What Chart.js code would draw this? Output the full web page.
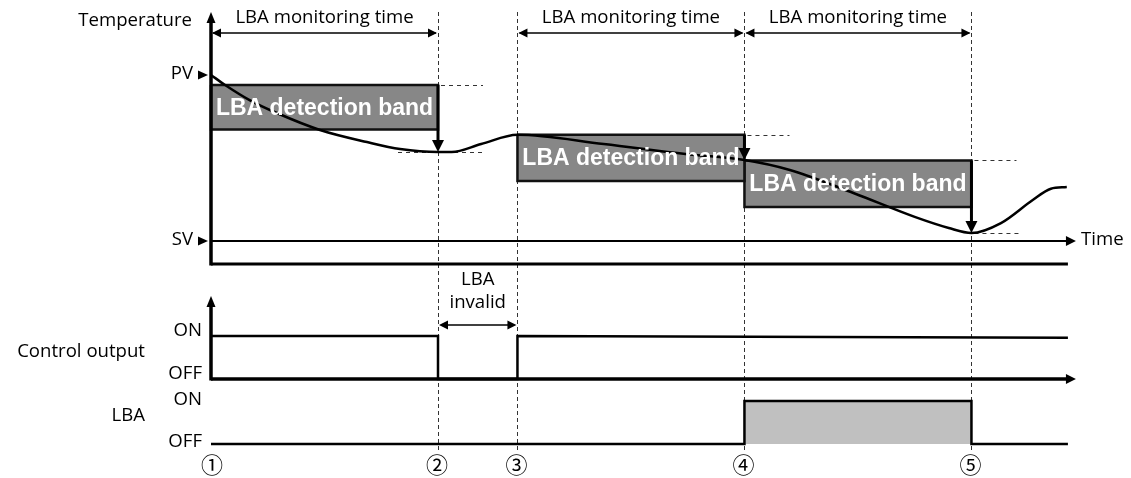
<!DOCTYPE html>
<html>
<head>
<meta charset="utf-8">
<script src="https://cdn.jsdelivr.net/npm/chart.js@4"></script>
<style>
  html, body { margin: 0; padding: 0; background: #fff; }
  #wrap { position: relative; width: 1131px; height: 478px; }
</style>
</head>
<body>
<div id="wrap"><canvas id="lbaChart"></canvas></div>
<script>
// time marks (one LBA monitoring time = 1)
const markTimes = [0, 1, 1.35, 2.35, 3.35];
const markLabels = ['①', '②', '③', '④', '⑤'];
const timeEnd = 3.775;

// temperature, SV = 0 and PV = 100
const PV = 100, SV = 0;
const tempTimes  = [0, 0.062, 0.17, 0.29, 0.48, 0.687, 0.833, 1.0, 1.06, 1.19, 1.35, 1.73, 2.09, 2.35, 2.55, 2.83, 3.1, 3.25, 3.35, 3.48, 3.62, 3.7, 3.77];
const tempValues = [100, 94, 84.9, 77.1, 66.9, 59.6, 55.4, 53.6, 53.6, 58.4, 64, 58.4, 52.4, 48.8, 42.8, 28.9, 14.5, 7.8, 4.8, 10.8, 24.7, 31.5, 32.5];

// LBA detection bands
const bandStart   = [0, 1.35, 2.35];
const bandEnd     = [1, 2.35, 3.35];
const bandTop     = [94, 64, 48.5];
const bandBottom  = [67.2, 36.1, 20.5];
const bandEndTemp = [53.6, 48.8, 4.8];

// control output and LBA output, 1 = ON, 0 = OFF
const ctrlTimes  = [0, 1, 1, 1.35, 1.35, 3.775];
const ctrlValues = [1, 1, 0, 0, 1, 0.96];
const lbaTimes   = [0, 2.35, 2.35, 3.35, 3.35, 3.775];
const lbaValues  = [0, 0, 1, 1, 0, 0];

// layout (pixels)
const W = 1131, H = 478;
const X_ORIGIN = 211, X_UNIT = 227;
const Y_PV = 75, Y_SV = 241;
const Y_CTRL_ON = 336, Y_CTRL_OFF = 379;
const Y_LBA_ON = 401, Y_LBA_OFF = 444;
const FONT = '"Open Sans", "Noto Sans", sans-serif';
const CJK = '"Noto Sans CJK KR", sans-serif';
let labelSize = 17.5;

// value range of a scale so that v1 sits at pixel p1 and v2 at p2
function range(v1, p1, v2, p2, size) {
    const k = (v2 - v1) / (p2 - p1);
    return [v1 - p1 * k, v1 + (size - p1) * k];
}
const xr = range(0, X_ORIGIN, 1, X_ORIGIN + X_UNIT, W);
const tr = range(PV, Y_PV, SV, Y_SV, H);
const cr = range(1, Y_CTRL_ON, 0, Y_CTRL_OFF, H);
const lr = range(1, Y_LBA_ON, 0, Y_LBA_OFF, H);

const pts = (xs, ys) => xs.map((x, i) => ({ x: x, y: ys[i] }));

const bandSets = bandStart.map((s, i) => ({
    data: [
        { x: s, y: bandTop[i] }, { x: bandEnd[i], y: bandTop[i] },
        { x: bandEnd[i], y: bandBottom[i] }, { x: s, y: bandBottom[i] },
        { x: s, y: bandTop[i] }
    ],
    yAxisID: 'yT',
    borderColor: '#111',
    borderWidth: 2.5,
    backgroundColor: '#878787',
    fill: 'shape',
    pointRadius: 0,
    tension: 0,
    order: 3
}));

function arrowHead(ctx, x, y, dir, len, half) {
    ctx.beginPath();
    if (dir === 'right') { ctx.moveTo(x, y); ctx.lineTo(x - len, y - half); ctx.lineTo(x - len, y + half); }
    if (dir === 'left')  { ctx.moveTo(x, y); ctx.lineTo(x + len, y - half); ctx.lineTo(x + len, y + half); }
    if (dir === 'up')    { ctx.moveTo(x, y); ctx.lineTo(x - half, y + len); ctx.lineTo(x + half, y + len); }
    if (dir === 'down')  { ctx.moveTo(x, y); ctx.lineTo(x - half, y - len); ctx.lineTo(x + half, y - len); }
    ctx.closePath();
    ctx.fill();
}

function line(ctx, x1, y1, x2, y2, w) {
    ctx.lineWidth = w;
    ctx.beginPath();
    ctx.moveTo(x1, y1);
    ctx.lineTo(x2, y2);
    ctx.stroke();
}

function text(ctx, str, x, y, align, size, family) {
    ctx.font = size + 'px ' + (family || FONT);
    ctx.textAlign = align;
    ctx.textBaseline = 'middle';
    ctx.fillText(str, x, y);
}

const diagram = {
    id: 'diagram',
    beforeDatasetsDraw(chart) {
        const { ctx, scales: { x, yT } } = chart;
        ctx.save();
        ctx.strokeStyle = '#333';
        ctx.setLineDash([4, 3]);
        markTimes.slice(1).forEach(t => {
            const px = Math.round(x.getPixelForValue(t)) + 0.5;
            line(ctx, px, 12, px, 452, 1);
        });
        // reference levels at band ends
        ctx.setLineDash([4, 4]);
        bandEnd.forEach((t, i) => {
            const px = x.getPixelForValue(t);
            const yTop = Math.round(yT.getPixelForValue(bandTop[i])) + 0.5;
            const yEnd = Math.round(yT.getPixelForValue(bandEndTemp[i])) + 0.5;
            line(ctx, px + 3, yTop, px + 45, yTop, 1);
            line(ctx, i === 0 ? px - 40 : px + 3, yEnd, px + 47, yEnd, 1);
        });
        ctx.restore();
    },
    afterDatasetsDraw(chart) {
        const { ctx, scales: { x, yT, yC, yL } } = chart;
        const x0 = x.getPixelForValue(0);
        const xe = x.getPixelForValue(timeEnd);
        ctx.save();
        ctx.strokeStyle = '#000';
        ctx.fillStyle = '#000';
        ctx.setLineDash([]);

        // label size so that "Temperature" is as wide as in the source
        ctx.font = '100px ' + FONT;
        labelSize = +(100 * 114 / ctx.measureText('Temperature').width).toFixed(1);
        const fs = labelSize;

        // band labels and drop arrows
        bandStart.forEach((s, i) => {
            const l = x.getPixelForValue(s), r = x.getPixelForValue(bandEnd[i]);
            const yc = (yT.getPixelForValue(bandTop[i]) + yT.getPixelForValue(bandBottom[i])) / 2;
            ctx.fillStyle = '#fff';
            ctx.font = 'bold 100px "Liberation Sans", Arial, sans-serif';
            const k = (r - l - 10) / ctx.measureText('LBA detection band').width;
            ctx.font = 'bold ' + (100 * k).toFixed(1) + 'px "Liberation Sans", Arial, sans-serif';
            ctx.textAlign = 'center';
            ctx.textBaseline = 'middle';
            ctx.fillText('LBA detection band', (l + r) / 2, yc + 1);
            ctx.fillStyle = '#000';
            const yTop = yT.getPixelForValue(bandTop[i]);
            const yEnd = yT.getPixelForValue(bandEndTemp[i]);
            line(ctx, r, yTop, r, yEnd - 10, 3);
            arrowHead(ctx, r, yEnd, 'down', 12, 6);

            // monitoring time arrows
            const ya = 33;
            line(ctx, l + 2, ya, r - 2, ya, 1.5);
            arrowHead(ctx, l + 1, ya, 'left', 9, 4.5);
            arrowHead(ctx, r - 1, ya, 'right', 9, 4.5);
            text(ctx, 'LBA monitoring time', (l + r) / 2, 18, 'center', fs);
        });

        // temperature axes
        const yBase = 264, ySV = yT.getPixelForValue(SV), yPV = yT.getPixelForValue(PV);
        line(ctx, x0, yBase + 1.5, x0, 22, 3.5);
        arrowHead(ctx, x0, 12, 'up', 11, 4.5);
        line(ctx, x0, yBase, xe, yBase, 3);
        line(ctx, x0, ySV, xe, ySV, 2);
        arrowHead(ctx, xe + 8, ySV, 'right', 10, 5);
        text(ctx, 'Temperature', 192, 21, 'right', fs);
        text(ctx, 'PV', 193, yPV - 1, 'right', fs);
        text(ctx, 'SV', 193, ySV - 1, 'right', fs);
        arrowHead(ctx, 208, yPV, 'right', 10, 4.5);
        arrowHead(ctx, 208, ySV, 'right', 10, 4.5);
        text(ctx, 'Time', 1081, ySV - 1, 'left', fs);

        // control output axes
        const yOff = yC.getPixelForValue(0), yOn = yC.getPixelForValue(1);
        line(ctx, x0, yOff + 1.5, x0, 306, 3.5);
        arrowHead(ctx, x0, 296, 'up', 11, 4.5);
        line(ctx, x0, yOff, xe, yOff, 3.5);
        arrowHead(ctx, xe + 8, yOff, 'right', 10, 5);
        text(ctx, 'ON', 202, yOn - 5, 'right', fs);
        text(ctx, 'OFF', 202, yOff - 5, 'right', fs);
        text(ctx, 'Control output', 145, 352, 'right', fs);

        // LBA invalid interval
        const a = x.getPixelForValue(markTimes[1]), b = x.getPixelForValue(markTimes[2]);
        line(ctx, a + 3, 325, b - 3, 325, 1.5);
        arrowHead(ctx, a + 1, 325, 'left', 9, 4.5);
        arrowHead(ctx, b - 1, 325, 'right', 9, 4.5);
        text(ctx, 'LBA', (a + b) / 2, 280, 'center', fs);
        text(ctx, 'invalid', (a + b) / 2, 303, 'center', fs);

        // LBA output labels
        text(ctx, 'ON', 202, yL.getPixelForValue(1) - 1, 'right', fs);
        text(ctx, 'OFF', 202, yL.getPixelForValue(0) - 2, 'right', fs);
        text(ctx, 'LBA', 145, 416, 'right', fs);

        // time marks
        markTimes.forEach((t, i) => text(ctx, markLabels[i], x.getPixelForValue(t) - 1 + (i === 0 ? 2 : 0), 465, 'center', 22, CJK));
        ctx.restore();
    }
};

new Chart(document.getElementById('lbaChart'), {
    type: 'line',
    data: {
        datasets: [
            {
                data: pts(tempTimes, tempValues),
                yAxisID: 'yT',
                borderColor: '#000',
                borderWidth: 2.5,
                pointRadius: 0,
                cubicInterpolationMode: 'monotone',
                fill: false,
                order: 1
            },
            ...bandSets,
            {
                data: pts(ctrlTimes, ctrlValues),
                yAxisID: 'yC',
                borderColor: '#000',
                borderWidth: 2.5,
                pointRadius: 0,
                fill: false,
                order: 2
            },
            {
                data: pts(lbaTimes, lbaValues),
                yAxisID: 'yL',
                borderColor: '#000',
                borderWidth: 2.5,
                backgroundColor: '#c0c0c0',
                pointRadius: 0,
                fill: { value: 0 },
                order: 2
            }
        ]
    },
    options: {
        responsive: true,
        maintainAspectRatio: false,
        animation: false,
        events: [],
        layout: { padding: 0 },
        plugins: { legend: { display: false }, tooltip: { enabled: false } },
        scales: {
            x:  { type: 'linear', min: xr[0], max: xr[1], display: false },
            yT: { type: 'linear', min: tr[1], max: tr[0], display: false },
            yC: { type: 'linear', min: cr[1], max: cr[0], display: false },
            yL: { type: 'linear', min: lr[1], max: lr[0], display: false }
        }
    },
    plugins: [diagram]
});
</script>
</body>
</html>
